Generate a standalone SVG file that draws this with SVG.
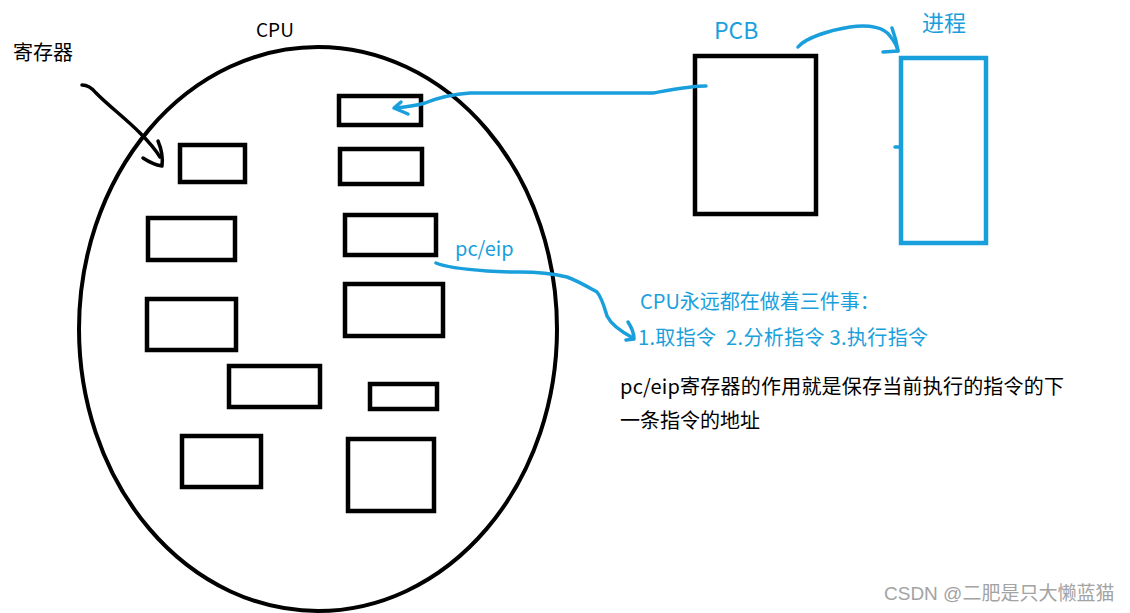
<svg xmlns="http://www.w3.org/2000/svg" width="1130" height="613" viewBox="0 0 1130 613">
<style>
.bk{fill:none;stroke:#000;stroke-width:4.5;stroke-linejoin:miter}
.el{fill:none;stroke:#000;stroke-width:4}
.bl{fill:none;stroke:#1a9fdd;stroke-width:3.5;stroke-linecap:round;stroke-linejoin:round}
.blk{fill:none;stroke:#000;stroke-width:3.5;stroke-linecap:round;stroke-linejoin:round}
text{font-family:"Noto Sans CJK SC","Noto Sans",sans-serif}
.t{font-size:20px;fill:#000}
.tb{font-size:20px;fill:#1a9fdd}
.wm{font-size:19px;fill:#a3a3a3;font-family:"Liberation Sans","Noto Sans CJK SC",sans-serif}
</style>
<rect width="1130" height="613" fill="#fff"/>
<g id="cpu">
<ellipse cx="318" cy="329" rx="239" ry="282" class="el"/>
<text x="256" y="37" class="t" style="font-size:19px">CPU</text>
</g>
<g id="reg-label"><text x="13" y="60" class="t">寄存器</text></g>
<g id="reg1"><rect x="180" y="145" width="65" height="37" class="bk"/></g>
<g id="reg2"><rect x="339" y="96" width="82" height="29" class="bk"/></g>
<g id="reg3"><rect x="340" y="149" width="82" height="35" class="bk"/></g>
<g id="reg4"><rect x="148" y="218" width="87" height="42" class="bk"/></g>
<g id="reg5"><rect x="345" y="215" width="91" height="40" class="bk"/></g>
<g id="reg6"><rect x="147" y="299" width="89" height="51" class="bk"/></g>
<g id="reg7"><rect x="345" y="284" width="98" height="52" class="bk"/></g>
<g id="reg8"><rect x="229" y="366" width="91" height="41" class="bk"/></g>
<g id="reg9"><rect x="370" y="384" width="67" height="25" class="bk"/></g>
<g id="reg10"><rect x="182" y="436" width="79" height="51" class="bk"/></g>
<g id="reg11"><rect x="348" y="439" width="86" height="72" class="bk"/></g>
<g id="pcb">
<rect x="695" y="56" width="121" height="158" class="bk"/>
<text x="714" y="39" class="tb" style="font-size:23px">PCB</text>
</g>
<g id="process">
<rect x="901" y="58" width="85" height="185" fill="none" stroke="#1a9fdd" stroke-width="4.5"/>
<text x="922" y="31" class="tb" style="font-size:22px">进程</text>
<path d="M895,147 L900,147" class="bl" stroke-width="2.5"/>
</g>
<g id="pceip-label"><text x="455" y="256" class="tb">pc/eip</text></g>
<g id="note-blue">
<text x="640" y="309" class="tb">CPU永远都在做着三件事：</text>
<text x="638" y="345" class="tb" textLength="290" lengthAdjust="spacing">1.取指令&#160;&#160;2.分析指令 3.执行指令</text>
</g>
<g id="note-black">
<text x="620" y="394" class="t" textLength="444" lengthAdjust="spacing">pc/eip寄存器的作用就是保存当前执行的指令的下</text>
<text x="620" y="428" class="t">一条指令的地址</text>
</g>
<g id="connectors">
<path d="M82,85 C88,85 92,88 96,93 C110,107 125,118 140,133 C148,141 155,149 160,157" class="blk"/>
<path d="M158,141 C161,148 163,158 162,166 C156,165 149,162 143,158" class="blk"/>
<path d="M706,86 C690,86 670,90 653,93 L470,93 C455,94 440,97 425,103 C415,106 405,107 395,108" class="bl"/>
<path d="M401,102 L394,108 L408,114" class="bl"/>
<path d="M798,47 C805,38 830,30 850,27 C870,24 885,28 890,36 C894,41 897,46 898,51" class="bl"/>
<path d="M892,28 C895,36 897,44 898,51 L883,52" class="bl"/>
<path d="M436,263 C445,267 460,269 487,271 C500,272 510,272 520,272 C535,272 550,273 567,277 C578,281 588,287 597,292 C602,298 604,306 607,316 C611,324 618,330 633,338" class="bl"/>
<path d="M628,322 C632,328 634,333 634,339 L626,340" class="bl"/>
</g>
<text x="884" y="600" class="wm">CSDN @二肥是只大懒蓝猫</text>
</svg>
